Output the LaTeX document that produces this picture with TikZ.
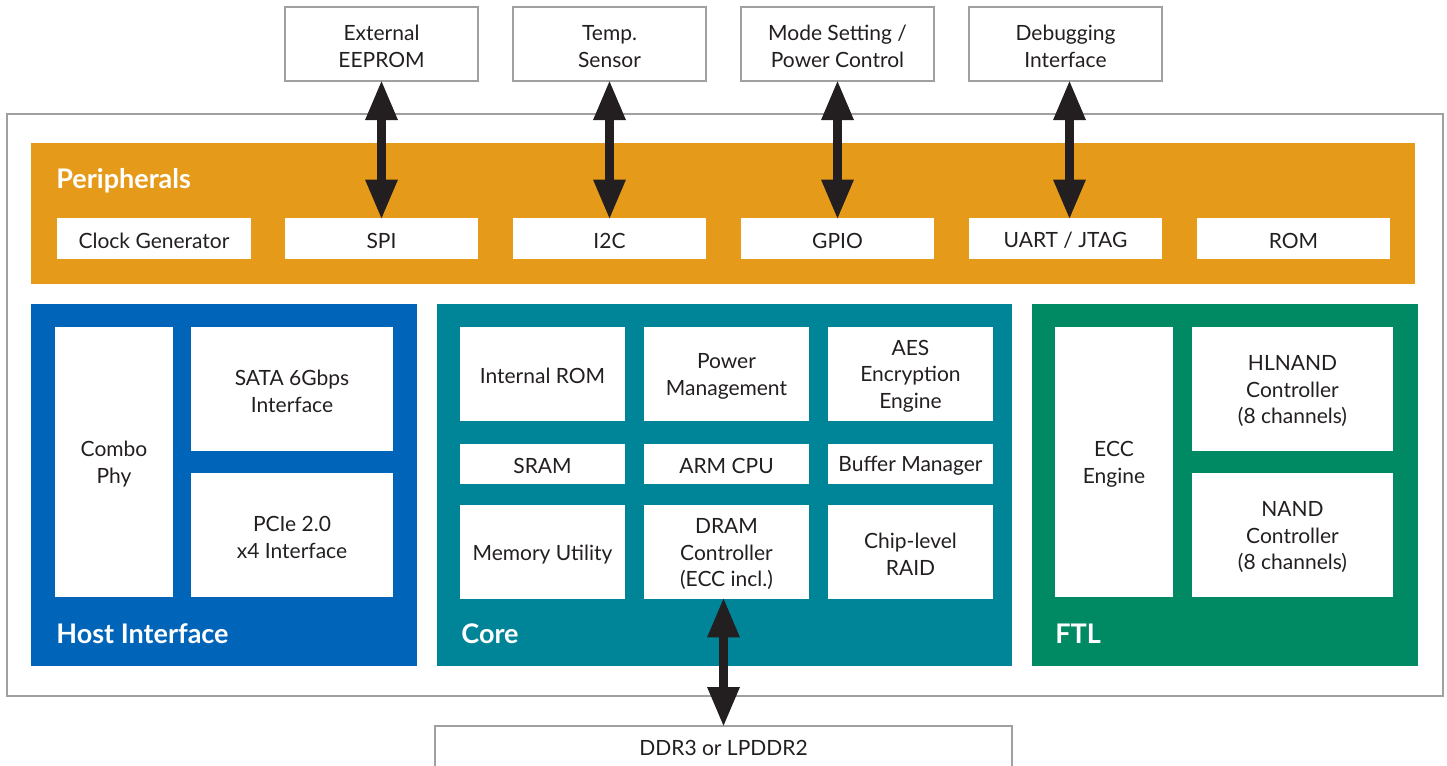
\documentclass[tikz,border=0pt]{standalone}
\usepackage{fontspec}
\setmainfont{Lato}
\usetikzlibrary{arrows.meta,fit}
\definecolor{ink}{HTML}{231F20}
\definecolor{framegray}{HTML}{A0A0A3}
\definecolor{perorange}{HTML}{E69A1A}
\definecolor{hostblue}{HTML}{0064B9}
\definecolor{coreteal}{HTML}{008598}
\definecolor{ftlgreen}{HTML}{008A63}
\tikzset{
  txt/.style={inner sep=0pt, text=ink, align=center,
    font=\fontsize{10.5}{13.4}\selectfont},
  tx/.style={label={[txt, yshift=-1.1pt]center:{#1}}},
  wbox/.style={fill=white, inner sep=0pt},
  gbox/.style={wbox, draw=framegray, line width=1pt},
  panel/.style={inner sep=0pt, draw=none},
  title/.style={anchor=west, inner sep=0pt, text=white,
    font=\bfseries\fontsize{13.5}{16}\selectfont},
  bus/.style={draw=ink, line width=4.5pt,
    {Triangle[length=20pt,width=15pt]}-{Triangle[length=20pt,width=15pt]}}
}
\begin{document}
\begin{tikzpicture}[x=0.5pt,y=-0.5pt]
\useasboundingbox (0,0) rectangle (1447,766);
% outer frame
\node[panel, draw=framegray, line width=1pt, fit={(7,114)(1443,696)}] (chip) {};
% external boxes
\node[gbox, fit={(285,7)(478,81)}, tx={External\\EEPROM}] (eeprom) {};
\node[gbox, fit={(513,7)(706,81)}, tx={Temp.\\Sensor}] (temp) {};
\node[gbox, fit={(741,7)(934,81)}, tx={Mode Setting /\\Power Control}] (mode) {};
\node[gbox, fit={(969,7)(1162,81)}, tx={Debugging\\Interface}] (debug) {};
% peripherals
\node[panel, fill=perorange, fit={(31,143)(1415,284)}] (per) {};
\node[title] (pertitle) at (56,180.5) {Peripherals};
\node[wbox, fit={(57,218)(251,259)}, tx={Clock Generator}] (clk) {};
\node[wbox, fit={(285,218)(478,259)}, tx={SPI}] (spi) {};
\node[wbox, fit={(513,218)(706,259)}, tx={I2C}] (i2c) {};
\node[wbox, fit={(741,218)(934,259)}, tx={GPIO}] (gpio) {};
\node[wbox, fit={(969,218)(1162,259)}, tx={UART / JTAG}] (uart) {};
\node[wbox, fit={(1197,218)(1390,259)}, tx={ROM}] (rom) {};
% host interface
\node[panel, fill=hostblue, fit={(31,304)(417,666)}] (host) {};
\node[title] (hosttitle) at (56,634) {Host Interface};
\node[wbox, fit={(55,327)(173,597)}, tx={Combo\\Phy}] (phy) {};
\node[wbox, fit={(191,327)(393,451)}, tx={SATA 6Gbps\\Interface}] (sata) {};
\node[wbox, fit={(191,473)(393,597)}, tx={PCIe 2.0\\x4 Interface}] (pcie) {};
% core
\node[panel, fill=coreteal, fit={(437,304)(1012,666)}] (core) {};
\node[title] (coretitle) at (461,634) {Core};
\node[wbox, fit={(460,327)(625,421)}, tx={Internal ROM}] (irom) {};
\node[wbox, fit={(644,327)(809,421)}, tx={Power\\Management}] (pm) {};
\node[wbox, fit={(828,327)(993,421)}, tx={AES\\Encryption\\Engine}] (aes) {};
\node[wbox, fit={(460,444)(625,484)}, tx={SRAM}] (sram) {};
\node[wbox, fit={(644,444)(809,484)}, tx={ARM CPU}] (cpu) {};
\node[wbox, fit={(828,444)(993,484)}, tx={Buffer Manager}] (buf) {};
\node[wbox, fit={(460,505)(625,599)}, tx={Memory Utility}] (mu) {};
\node[wbox, fit={(644,505)(809,599)}, tx={DRAM\\Controller\\(ECC incl.)}] (dram) {};
\node[wbox, fit={(828,505)(993,599)}, tx={Chip-level\\RAID}] (raid) {};
% FTL
\node[panel, fill=ftlgreen, fit={(1032,304)(1418,666)}] (ftl) {};
\node[title] (ftltitle) at (1055,634) {FTL};
\node[wbox, fit={(1055,327)(1173,597)}, tx={ECC\\Engine}] (ecc) {};
\node[wbox, fit={(1192,327)(1393,451)}, tx={HLNAND\\Controller\\(8 channels)}] (hlnand) {};
\node[wbox, fit={(1192,473)(1393,597)}, tx={NAND\\Controller\\(8 channels)}] (nand) {};
% DDR
\node[panel, draw=framegray, line width=1pt, fit={(435,726)(1012,800)}] (ddrframe) {};
\node[txt] (ddr) at (723.5,748) {DDR3 or LPDDR2};
% buses
\draw[bus] ([yshift=-1pt]spi.north) -- ([yshift=1pt]spi.north |- eeprom.south);
\draw[bus] ([yshift=-1pt]i2c.north) -- ([yshift=1pt]i2c.north |- temp.south);
\draw[bus] ([yshift=-1pt]gpio.north) -- ([yshift=1pt]gpio.north |- mode.south);
\draw[bus] ([xshift=2pt,yshift=-1pt]uart.north) -- ([xshift=2pt,yshift=1pt]uart.north |- debug.south);
\draw[bus] ([xshift=-1.5pt,yshift=1pt]dram.south) -- ([xshift=-1.5pt,yshift=-1pt]dram.south |- ddrframe.north);
\end{tikzpicture}
\end{document}
